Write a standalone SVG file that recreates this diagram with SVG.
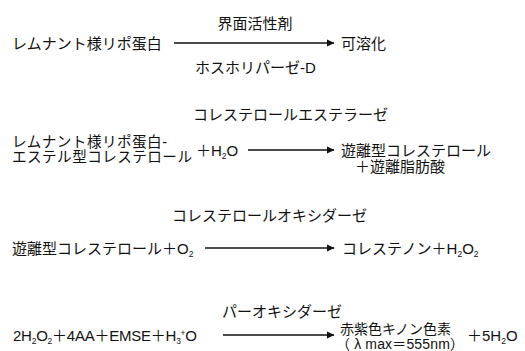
<svg xmlns="http://www.w3.org/2000/svg" width="525" height="351" viewBox="0 0 525 351">
<defs>
<style>
text{font-family:"Liberation Sans","Noto Sans CJK JP",sans-serif;font-size:15px;fill:#111}
.sm{font-size:14px}
.sub{font-size:8.5px}
.two{font-size:14.6px}
.ln{stroke:#111;stroke-width:1.6;fill:none}
</style>
<marker id="ah" markerWidth="8" markerHeight="8" refX="7" refY="4" orient="auto" markerUnits="userSpaceOnUse">
<path d="M0,0.5 L7.5,4 L0,7.5 Z" fill="#111"/>
</marker>
</defs>
<rect width="525" height="351" fill="#fff"/>
<g id="connectors">
<line class="ln" x1="174" y1="43" x2="334" y2="43" marker-end="url(#ah)"/>
<line class="ln" x1="248" y1="150" x2="334" y2="150" marker-end="url(#ah)"/>
<line class="ln" x1="205" y1="248" x2="334" y2="248" marker-end="url(#ah)"/>
<line class="ln" x1="223" y1="335" x2="334" y2="335" marker-end="url(#ah)"/>
</g>
<g id="r1-substrate"><text x="12" y="48.5">レムナント様リポ蛋白</text></g>
<g id="r1-label-top"><text x="255" y="28.5" text-anchor="middle">界面活性剤</text></g>
<g id="r1-label-bottom"><text x="195" y="72.5">ホスホリパーゼ-D</text></g>
<g id="r1-product"><text x="341" y="48.5">可溶化</text></g>

<g id="r2-label"><text x="193" y="119.5">コレステロールエステラーゼ</text></g>
<g id="r2-substrate"><text class="two" x="12" y="146.5" textLength="155" lengthAdjust="spacing">レムナント様リポ蛋白-</text><text class="two" x="12" y="162" textLength="180" lengthAdjust="spacing">エステル型コレステロール</text><text x="196" y="155.5">＋H<tspan class="sub" dy="3">2</tspan><tspan dy="-3">O</tspan></text></g>
<g id="r2-product"><text x="341" y="155.5">遊離型コレステロール</text><text x="355" y="171.5">＋遊離脂肪酸</text></g>

<g id="r3-label"><text x="172" y="220.5">コレステロールオキシダーゼ</text></g>
<g id="r3-substrate"><text x="12" y="253.5">遊離型コレステロール＋O<tspan class="sub" dy="3">2</tspan></text></g>
<g id="r3-product"><text x="342" y="253.5">コレステノン＋H<tspan class="sub" dy="3">2</tspan><tspan dy="-3">O</tspan><tspan class="sub" dy="3">2</tspan></text></g>

<g id="r4-label"><text x="222" y="316.5">パーオキシダーゼ</text></g>
<g id="r4-substrate"><text x="13" y="340.5" textLength="184" lengthAdjust="spacing">2H<tspan class="sub" dy="3">2</tspan><tspan dy="-3">O</tspan><tspan class="sub" dy="3">2</tspan><tspan dy="-3">＋4AA＋EMSE＋H</tspan><tspan class="sub" dy="3">3</tspan><tspan class="sub" dy="-8">+</tspan><tspan dy="5">O</tspan></text></g>
<g id="r4-product"><text class="sm" x="340" y="334">赤紫色キノン色素</text><text class="sm" x="336" y="348.5" textLength="128" lengthAdjust="spacing">（ λ max＝555nm）</text><text x="467" y="340.5">＋5H<tspan class="sub" dy="3">2</tspan><tspan dy="-3">O</tspan></text></g>
</svg>
